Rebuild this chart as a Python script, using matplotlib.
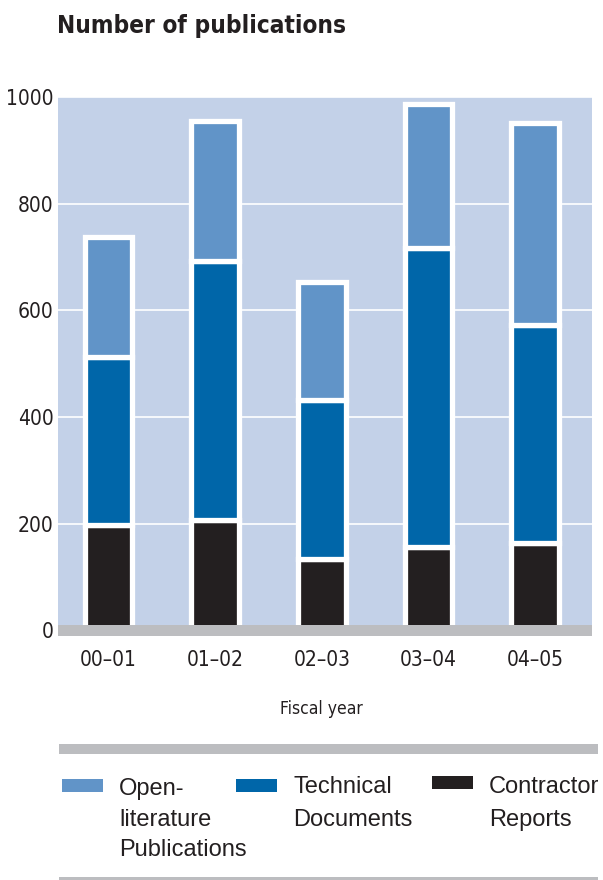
import matplotlib
matplotlib.use("Agg")
import matplotlib.pyplot as plt
from matplotlib.patches import Rectangle

# ---- data ----
years = ["00\u201301", "01\u201302", "02\u201303", "03\u201304", "04\u201305"]
contractor = [198, 207, 134, 155, 163]
technical = [314, 485, 297, 561, 409]
open_lit = [226, 263, 222, 271, 379]
yticks = [0, 200, 400, 600, 800, 1000]

series_labels = [["Open-", "literature", "Publications"],
                 ["Technical", "Documents"],
                 ["Contractor", "Reports"]]
c_open = "#6194c8"
c_tech = "#0066a9"
c_cont = "#231f20"
c_bg = "#c3d1e8"
c_gray = "#bcbdc0"

COND = dict(family="DejaVu Sans", fontstretch="condensed")

W, H = 603, 880
fig = plt.figure(figsize=(W / 100, H / 100), dpi=100)


def fx(x):
    return x / W


def fy(y):
    return 1 - y / H


ax = fig.add_axes([fx(58.3), fy(636), fx(592) - fx(58.3), fy(97) - fy(636)])
ax.set_facecolor(c_bg)
for s in ax.spines.values():
    s.set_visible(False)

x = list(range(len(years)))
bw = 0.447
lw = 3.8
b1 = contractor
b2 = [a + b for a, b in zip(contractor, technical)]
ax.bar(x, contractor, width=bw, color=c_cont, edgecolor="white", linewidth=lw, zorder=3)
ax.bar(x, technical, bottom=b1, width=bw, color=c_tech, edgecolor="white", linewidth=lw, zorder=3)
ax.bar(x, open_lit, bottom=b2, width=bw, color=c_open, edgecolor="white", linewidth=lw, zorder=3)

ax.axhspan(-11, 9.4, color=c_gray, zorder=5, lw=0)
ax.set_ylim(-11, 1000)
ax.set_xlim(-0.4705, 4.531)
ax.set_yticks(yticks)
ax.set_yticklabels([str(v) for v in yticks], fontsize=15, color="#231f20", **COND)
ax.set_xticks(x)
ax.set_xticklabels(years, fontsize=15, color="#231f20", **COND)
ax.tick_params(axis="y", length=0, pad=3.5)
ax.tick_params(axis="x", length=0, pad=10.0)
ax.yaxis.grid(True, color="white", linewidth=1.2)
ax.set_axisbelow(True)

# title and axis label
fig.text(fx(56.7), fy(33.3), "Number of publications", fontsize=17.5, fontweight="bold",
         color="#231f20", va="baseline", ha="left", **COND)
fig.text(fx(321.7), fy(714), "Fiscal year", fontsize=12.5, color="#231f20",
         va="baseline", ha="center", **COND)

# legend rules
fig.patches.append(Rectangle((fx(59), fy(754)), fx(598) - fx(59), fy(744) - fy(754),
                             transform=fig.transFigure, color=c_gray, lw=0))
fig.patches.append(Rectangle((fx(59), fy(884)), fx(598) - fx(59), fy(877) - fy(884),
                             transform=fig.transFigure, color=c_gray, lw=0))

# legend entries
leg_colors = [c_open, c_tech, c_cont]
patch_x = [61.7, 235.7, 432.3]
patch_y = [(779.3, 792.3), (779.3, 791.7), (776, 788.7)]
text_x = [119, 293, 489]
text_base = [[795, 825.7, 855.7], [793, 825.7], [793, 825.7]]
for i in range(3):
    y0, y1 = patch_y[i]
    fig.patches.append(Rectangle((fx(patch_x[i]), fy(y1)), fx(41), fy(y0) - fy(y1),
                                 transform=fig.transFigure, color=leg_colors[i], lw=0))
    for line, yb in zip(series_labels[i], text_base[i]):
        fig.text(fx(text_x[i]), fy(yb), line, fontsize=17, color="#231f20",
                 va="baseline", ha="left", family="Liberation Sans")

fig.savefig("out.png", dpi=100, facecolor="white")
